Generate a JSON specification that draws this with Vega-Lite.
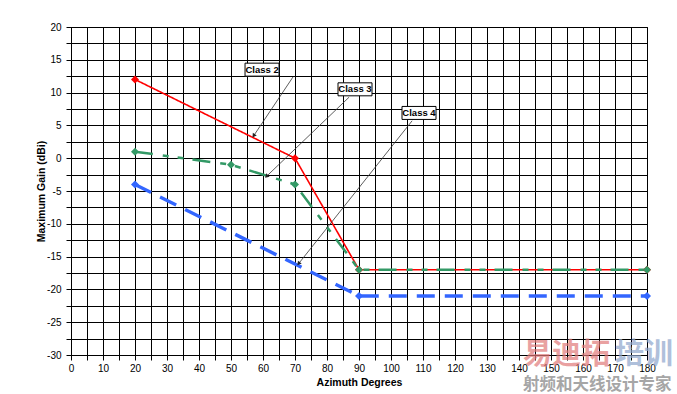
{
  "$schema": "https://vega.github.io/schema/vega-lite/v6.json",
  "width": 576,
  "height": 328,
  "autosize": "none",
  "padding": {"left": 71, "top": 27, "right": 30, "bottom": 39},
  "background": "white",
  "config": {
    "view": {"stroke": "black", "strokeWidth": 1},
    "font": "Liberation Sans",
    "axis": {
      "labelFont": "Liberation Sans",
      "labelFontSize": 10,
      "labelColor": "black",
      "titleFont": "Liberation Sans",
      "titleFontSize": 10.5,
      "titleFontWeight": "bold",
      "titleColor": "black",
      "grid": true,
      "gridColor": "black",
      "gridOpacity": 1,
      "gridWidth": 1,
      "domainColor": "black",
      "tickColor": "black",
      "tickSize": 5,
      "labelOverlap": false
    }
  },
  "datasets": {
    "series": [
      {"cls": "Class 2", "az": 20, "gain": 12},
      {"cls": "Class 2", "az": 70, "gain": 0},
      {"cls": "Class 2", "az": 90, "gain": -17},
      {"cls": "Class 2", "az": 180, "gain": -17},
      {"cls": "Class 3", "az": 20, "gain": 1},
      {"cls": "Class 3", "az": 50, "gain": -1},
      {"cls": "Class 3", "az": 70, "gain": -4},
      {"cls": "Class 3", "az": 90, "gain": -17},
      {"cls": "Class 3", "az": 180, "gain": -17},
      {"cls": "Class 4", "az": 20, "gain": -4},
      {"cls": "Class 4", "az": 90, "gain": -21},
      {"cls": "Class 4", "az": 180, "gain": -21}
    ],
    "notes": [
      {"label": "Class 2", "bx": 59.7, "by": 13.5, "sx": 69.4, "sy": 12.4, "tx": 57.2, "ty": 3.5, "heading": 214},
      {"label": "Class 3", "bx": 88.75, "by": 10.5, "sx": 86.9, "sy": 9.3, "tx": 61.25, "ty": -2.7, "heading": 226},
      {"label": "Class 4", "bx": 108.75, "by": 6.9, "sx": 106.6, "sy": 5.7, "tx": 71.25, "ty": -16.0, "heading": 218.5}
    ],
    "mark": [
      {"part": "易迪拓", "x": 141.25, "y": -30},
      {"part": "培训", "x": 170, "y": -30},
      {"part": "射频和天线设计专家", "x": 141.25, "y": -34.5}
    ]
  },
  "layer": [
    {
      "data": {"name": "series"},
      "mark": {"type": "line", "point": {"shape": "diamond", "size": 64, "filled": true, "opacity": 1}},
      "encoding": {
        "x": {
          "field": "az", "type": "quantitative",
          "scale": {"domain": [0, 180], "nice": false, "zero": false},
          "axis": {
            "title": "Azimuth Degrees",
            "values": [0,5,10,15,20,25,30,35,40,45,50,55,60,65,70,75,80,85,90,95,100,105,110,115,120,125,130,135,140,145,150,155,160,165,170,175,180],
            "labelExpr": "datum.value % 10 == 0 ? '' + datum.value : ''",
            "labelPadding": 3, "titlePadding": 4, "labelFlush": false
          }
        },
        "y": {
          "field": "gain", "type": "quantitative",
          "scale": {"domain": [-30, 20], "nice": false, "zero": false},
          "axis": {
            "title": "Maximum Gain (dBi)",
            "values": [-30,-27.5,-25,-22.5,-20,-17.5,-15,-12.5,-10,-7.5,-5,-2.5,0,2.5,5,7.5,10,12.5,15,17.5,20],
            "labelExpr": "datum.value % 5 == 0 ? '' + datum.value : ''",
            "labelPadding": 5, "titlePadding": 0, "labelFlush": false
          }
        },
        "color": {
          "field": "cls", "type": "nominal",
          "scale": {"domain": ["Class 2", "Class 3", "Class 4"], "range": ["#ff0000", "#339966", "#3366ff"]},
          "legend": null
        },
        "strokeDash": {
          "field": "cls", "type": "nominal",
          "scale": {"domain": ["Class 2", "Class 3", "Class 4"], "range": [[1, 0], [18, 10, 6, 9, 6, 9], [18, 10]]},
          "legend": null
        },
        "strokeWidth": {
          "field": "cls", "type": "ordinal",
          "scale": {"domain": ["Class 2", "Class 3", "Class 4"], "range": [1.6, 3.4, 3.4]},
          "legend": null
        }
      }
    },
    {
      "data": {"name": "notes"},
      "mark": {"type": "rule", "color": "#333333", "strokeWidth": 0.8},
      "encoding": {
        "x": {"field": "sx", "type": "quantitative",
          "axis": {
            "title": "Azimuth Degrees",
            "values": [0,5,10,15,20,25,30,35,40,45,50,55,60,65,70,75,80,85,90,95,100,105,110,115,120,125,130,135,140,145,150,155,160,165,170,175,180],
            "labelExpr": "datum.value % 10 == 0 ? '' + datum.value : ''",
            "labelPadding": 3, "titlePadding": 4, "labelFlush": false
          }},
        "y": {"field": "sy", "type": "quantitative",
          "axis": {
            "title": "Maximum Gain (dBi)",
            "values": [-30,-27.5,-25,-22.5,-20,-17.5,-15,-12.5,-10,-7.5,-5,-2.5,0,2.5,5,7.5,10,12.5,15,17.5,20],
            "labelExpr": "datum.value % 5 == 0 ? '' + datum.value : ''",
            "labelPadding": 5, "titlePadding": 0, "labelFlush": false
          }},
        "x2": {"field": "tx"},
        "y2": {"field": "ty"}
      }
    },
    {
      "data": {"name": "notes"},
      "mark": {"type": "point", "shape": "triangle", "filled": true, "color": "#222222", "size": 22, "opacity": 1},
      "encoding": {
        "x": {"field": "tx", "type": "quantitative",
          "axis": {
            "title": "Azimuth Degrees",
            "values": [0,5,10,15,20,25,30,35,40,45,50,55,60,65,70,75,80,85,90,95,100,105,110,115,120,125,130,135,140,145,150,155,160,165,170,175,180],
            "labelExpr": "datum.value % 10 == 0 ? '' + datum.value : ''",
            "labelPadding": 3, "titlePadding": 4, "labelFlush": false
          }},
        "y": {"field": "ty", "type": "quantitative",
          "axis": {
            "title": "Maximum Gain (dBi)",
            "values": [-30,-27.5,-25,-22.5,-20,-17.5,-15,-12.5,-10,-7.5,-5,-2.5,0,2.5,5,7.5,10,12.5,15,17.5,20],
            "labelExpr": "datum.value % 5 == 0 ? '' + datum.value : ''",
            "labelPadding": 5, "titlePadding": 0, "labelFlush": false
          }},
        "angle": {"field": "heading", "type": "quantitative", "scale": null}
      }
    },
    {
      "data": {"name": "notes"},
      "mark": {"type": "point", "shape": "M-1,-0.382L1,-0.382L1,0.382L-1,0.382Z", "size": 1156, "filled": false, "fill": "white", "fillOpacity": 1, "stroke": "black", "strokeWidth": 1, "opacity": 1},
      "encoding": {
        "x": {"field": "bx", "type": "quantitative",
          "axis": {
            "title": "Azimuth Degrees",
            "values": [0,5,10,15,20,25,30,35,40,45,50,55,60,65,70,75,80,85,90,95,100,105,110,115,120,125,130,135,140,145,150,155,160,165,170,175,180],
            "labelExpr": "datum.value % 10 == 0 ? '' + datum.value : ''",
            "labelPadding": 3, "titlePadding": 4, "labelFlush": false
          }},
        "y": {"field": "by", "type": "quantitative",
          "axis": {
            "title": "Maximum Gain (dBi)",
            "values": [-30,-27.5,-25,-22.5,-20,-17.5,-15,-12.5,-10,-7.5,-5,-2.5,0,2.5,5,7.5,10,12.5,15,17.5,20],
            "labelExpr": "datum.value % 5 == 0 ? '' + datum.value : ''",
            "labelPadding": 5, "titlePadding": 0, "labelFlush": false
          }}
      }
    },
    {
      "data": {"name": "notes"},
      "mark": {"type": "text", "font": "Liberation Sans", "fontSize": 9.5, "fontWeight": "bold", "color": "black", "align": "center", "baseline": "middle"},
      "encoding": {
        "x": {"field": "bx", "type": "quantitative",
          "axis": {
            "title": "Azimuth Degrees",
            "values": [0,5,10,15,20,25,30,35,40,45,50,55,60,65,70,75,80,85,90,95,100,105,110,115,120,125,130,135,140,145,150,155,160,165,170,175,180],
            "labelExpr": "datum.value % 10 == 0 ? '' + datum.value : ''",
            "labelPadding": 3, "titlePadding": 4, "labelFlush": false
          }},
        "y": {"field": "by", "type": "quantitative",
          "axis": {
            "title": "Maximum Gain (dBi)",
            "values": [-30,-27.5,-25,-22.5,-20,-17.5,-15,-12.5,-10,-7.5,-5,-2.5,0,2.5,5,7.5,10,12.5,15,17.5,20],
            "labelExpr": "datum.value % 5 == 0 ? '' + datum.value : ''",
            "labelPadding": 5, "titlePadding": 0, "labelFlush": false
          }},
        "text": {"field": "label"}
      }
    },
    {
      "data": {"name": "mark"},
      "transform": [{"filter": "datum.part == '易迪拓'"}],
      "mark": {"type": "text", "font": "Noto Sans CJK SC", "fontSize": 29, "fontWeight": "bold", "color": "#e07a7a", "opacity": 0.7, "align": "left", "baseline": "middle"},
      "encoding": {
        "x": {"field": "x", "type": "quantitative",
          "axis": {
            "title": "Azimuth Degrees",
            "values": [0,5,10,15,20,25,30,35,40,45,50,55,60,65,70,75,80,85,90,95,100,105,110,115,120,125,130,135,140,145,150,155,160,165,170,175,180],
            "labelExpr": "datum.value % 10 == 0 ? '' + datum.value : ''",
            "labelPadding": 3, "titlePadding": 4, "labelFlush": false
          }},
        "y": {"field": "y", "type": "quantitative",
          "axis": {
            "title": "Maximum Gain (dBi)",
            "values": [-30,-27.5,-25,-22.5,-20,-17.5,-15,-12.5,-10,-7.5,-5,-2.5,0,2.5,5,7.5,10,12.5,15,17.5,20],
            "labelExpr": "datum.value % 5 == 0 ? '' + datum.value : ''",
            "labelPadding": 5, "titlePadding": 0, "labelFlush": false
          }},
        "text": {"field": "part"}
      }
    },
    {
      "data": {"name": "mark"},
      "transform": [{"filter": "datum.part == '培训'"}],
      "mark": {"type": "text", "font": "Noto Sans CJK SC", "fontSize": 29, "fontWeight": "bold", "color": "#8ea6cc", "opacity": 0.7, "align": "left", "baseline": "middle"},
      "encoding": {
        "x": {"field": "x", "type": "quantitative",
          "axis": {
            "title": "Azimuth Degrees",
            "values": [0,5,10,15,20,25,30,35,40,45,50,55,60,65,70,75,80,85,90,95,100,105,110,115,120,125,130,135,140,145,150,155,160,165,170,175,180],
            "labelExpr": "datum.value % 10 == 0 ? '' + datum.value : ''",
            "labelPadding": 3, "titlePadding": 4, "labelFlush": false
          }},
        "y": {"field": "y", "type": "quantitative",
          "axis": {
            "title": "Maximum Gain (dBi)",
            "values": [-30,-27.5,-25,-22.5,-20,-17.5,-15,-12.5,-10,-7.5,-5,-2.5,0,2.5,5,7.5,10,12.5,15,17.5,20],
            "labelExpr": "datum.value % 5 == 0 ? '' + datum.value : ''",
            "labelPadding": 5, "titlePadding": 0, "labelFlush": false
          }},
        "text": {"field": "part"}
      }
    },
    {
      "data": {"name": "mark"},
      "transform": [{"filter": "datum.part == '射频和天线设计专家'"}],
      "mark": {"type": "text", "font": "Noto Sans CJK SC", "fontSize": 16.5, "fontWeight": "bold", "color": "#909090", "opacity": 0.8, "align": "left", "baseline": "middle"},
      "encoding": {
        "x": {"field": "x", "type": "quantitative",
          "axis": {
            "title": "Azimuth Degrees",
            "values": [0,5,10,15,20,25,30,35,40,45,50,55,60,65,70,75,80,85,90,95,100,105,110,115,120,125,130,135,140,145,150,155,160,165,170,175,180],
            "labelExpr": "datum.value % 10 == 0 ? '' + datum.value : ''",
            "labelPadding": 3, "titlePadding": 4, "labelFlush": false
          }},
        "y": {"field": "y", "type": "quantitative",
          "axis": {
            "title": "Maximum Gain (dBi)",
            "values": [-30,-27.5,-25,-22.5,-20,-17.5,-15,-12.5,-10,-7.5,-5,-2.5,0,2.5,5,7.5,10,12.5,15,17.5,20],
            "labelExpr": "datum.value % 5 == 0 ? '' + datum.value : ''",
            "labelPadding": 5, "titlePadding": 0, "labelFlush": false
          }},
        "text": {"field": "part"}
      }
    }
  ]
}
